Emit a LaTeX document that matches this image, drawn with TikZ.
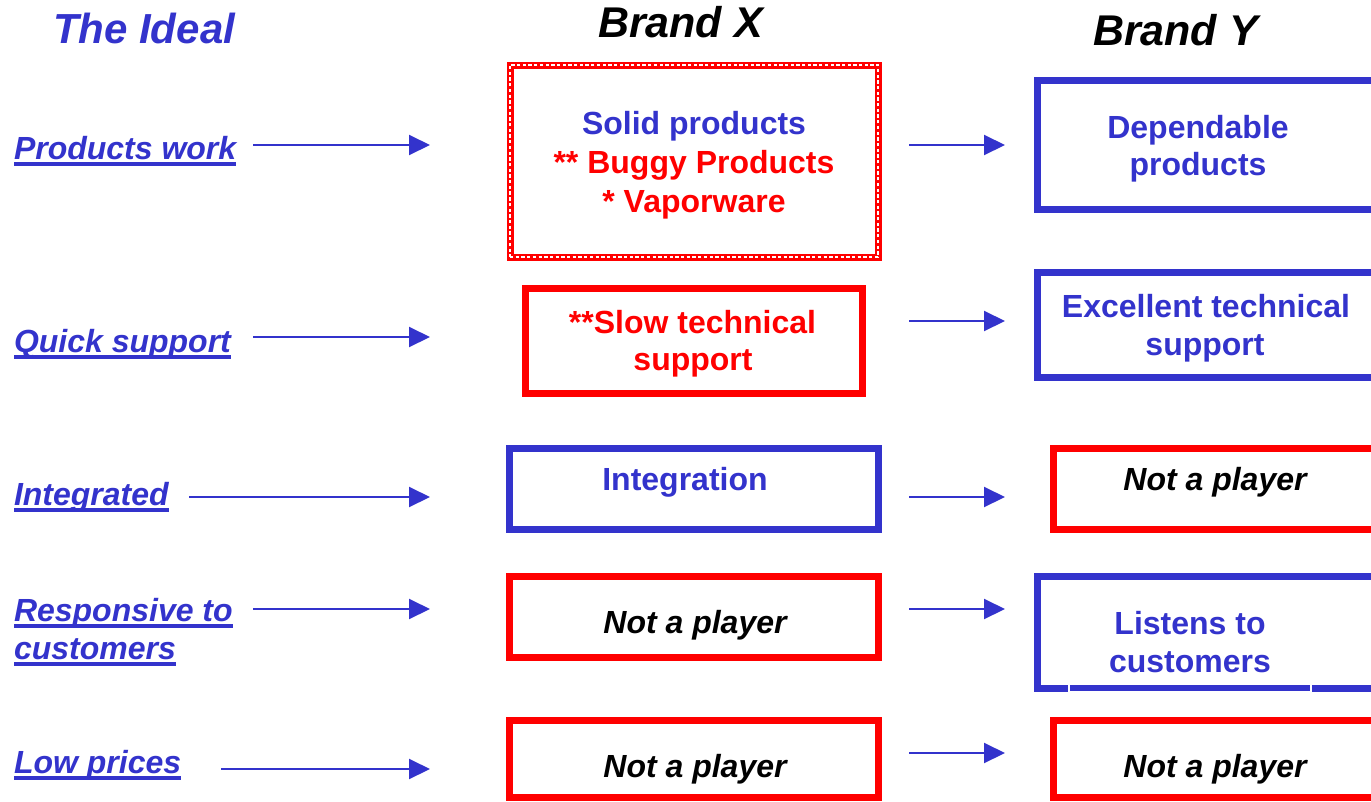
\documentclass[tikz,border=0pt]{standalone}
\usepackage{fontspec}
\setmainfont{Liberation Sans}
\usetikzlibrary{arrows.meta}
\definecolor{ideal}{HTML}{3333CC}
\definecolor{alert}{HTML}{FF0000}

\begin{document}
\begin{tikzpicture}[x=1pt,y=-1pt,
  every node/.style={inner sep=0pt, outer sep=0pt},
  header/.style={font=\fontsize{43}{50}\selectfont\bfseries\itshape, anchor=base west},
  criterion/.style={font=\fontsize{32}{38}\selectfont\bfseries\itshape, text=ideal, anchor=base west},
  boxtext/.style={font=\fontsize{32}{38}\selectfont\bfseries, anchor=base},
  verdict/.style={font=\fontsize{32}{38}\selectfont\bfseries\itshape, anchor=base},
  goodbox/.style={draw=ideal, line width=7.5pt, rectangle},
  badbox/.style={draw=alert, line width=7.5pt, rectangle},
  mixedbox/.style={draw=alert, line width=7pt, rectangle,
    postaction={draw=white, line width=1.8pt, dash pattern=on 3.3pt off 2.4pt}},
  uline/.style={draw=ideal, line width=3.5pt},
  link/.style={draw=ideal, line width=2pt, -{Triangle[length=21pt,width=20pt]}}
]
\clip (0,0) rectangle (1371,801);
\fill[white] (0,0) rectangle (1371,801);

% column headers
\node[header, text=ideal, font=\fontsize{42}{50}\selectfont\bfseries\itshape] (hIdeal) at (53,43) {The Ideal};
\node[header] (hX) at (598,37) {Brand X};
\node[header] (hY) at (1093,45) {Brand Y};

% criteria on the left
\node[criterion] (c1) at (14,159) {Products work};
\node[criterion] (c2) at (14,352) {Quick support};
\node[criterion] (c3) at (14,505) {Integrated};
\node[criterion] (c4a) at (14,621) {Responsive to};
\node[criterion] (c4b) at (14,659) {customers};
\node[criterion] (c5) at (14,773) {Low prices};
\foreach \n in {c1,c2,c3,c4a,c4b,c5}
  \draw[uline] ([yshift=-5pt]\n.base west) -- ([yshift=-5pt]\n.base east);

% Brand X boxes
\node[mixedbox, minimum width=368pt, minimum height=192pt] (x1) at (694,161) {};
\node[badbox, minimum width=337pt, minimum height=105pt] (x2) at (694,341) {};
\node[goodbox, minimum width=369pt, minimum height=81pt] (x3) at (694,489) {};
\node[badbox, minimum width=369pt, minimum height=81pt] (x4) at (694,617) {};
\node[badbox, minimum width=369pt, minimum height=77pt] (x5) at (694,759) {};

% Brand Y boxes
\node[goodbox, minimum width=337pt, minimum height=129pt] (y1) at (1206,145) {};
\node[goodbox, minimum width=337pt, minimum height=105pt] (y2) at (1206,325) {};
\node[badbox, minimum width=321pt, minimum height=81pt] (y3) at (1214,489) {};
\node[goodbox, minimum width=337pt, minimum height=112pt] (y4) at (1206,632.5) {};
\node[badbox, minimum width=321pt, minimum height=77pt] (y5) at (1214,759) {};
% thin white frame round the bottom stroke of the "Listens" box
\draw[white, line width=1.2pt] (1069,684) -- (1069,691.5) -- (1311,691.5) -- (1311,684);

% Brand X texts
\node[boxtext, text=ideal] (x1a) at (694,134) {Solid products};
\node[boxtext, text=alert] (x1b) at (694,173) {** Buggy Products};
\node[boxtext, text=alert] (x1c) at (694,212) {* Vaporware};
\node[boxtext, text=alert] (x2a) at (692.5,333) {**Slow technical};
\node[boxtext, text=alert] (x2b) at (693,370) {support};
\node[boxtext, text=ideal] (x3a) at (685,490) {Integration};
\node[verdict] (x4a) at (695,633) {Not a player};
\node[verdict] (x5a) at (695,777) {Not a player};

% Brand Y texts
\node[boxtext, text=ideal] (y1a) at (1198,138) {Dependable};
\node[boxtext, text=ideal] (y1b) at (1198,175) {products};
\node[boxtext, text=ideal] (y2a) at (1206,317) {Excellent technical};
\node[boxtext, text=ideal] (y2b) at (1205,355) {support};
\node[verdict] (y3a) at (1215,490) {Not a player};
\node[boxtext, text=ideal] (y4a) at (1190,634) {Listens to};
\node[boxtext, text=ideal] (y4b) at (1190,672) {customers};
\node[verdict] (y5a) at (1215,777) {Not a player};

% arrow ends
\coordinate (l1s) at (253,145); \coordinate (l1e) at (430,145);
\coordinate (l2s) at (253,337); \coordinate (l2e) at (430,337);
\coordinate (l3s) at (189,497); \coordinate (l3e) at (430,497);
\coordinate (l4s) at (253,609); \coordinate (l4e) at (430,609);
\coordinate (l5s) at (221,769); \coordinate (l5e) at (430,769);
\coordinate (m1s) at (909,145); \coordinate (m1e) at (1005,145);
\coordinate (m2s) at (909,321); \coordinate (m2e) at (1005,321);
\coordinate (m3s) at (909,497); \coordinate (m3e) at (1005,497);
\coordinate (m4s) at (909,609); \coordinate (m4e) at (1005,609);
\coordinate (m5s) at (909,753); \coordinate (m5e) at (1005,753);
\foreach \a in {l1,l2,l3,l4,l5,m1,m2,m3,m4,m5}
  \draw[link] (\a s) -- (\a e);
\end{tikzpicture}
\end{document}
